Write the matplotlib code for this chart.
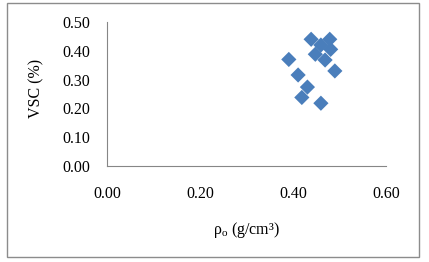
import matplotlib
matplotlib.use("Agg")
import matplotlib.pyplot as plt
from matplotlib.patches import Rectangle

density = [0.391, 0.439, 0.479, 0.460, 0.481, 0.448, 0.469, 0.490, 0.411, 0.431, 0.419, 0.460]
vsc = [0.370, 0.440, 0.440, 0.420, 0.405, 0.388, 0.368, 0.330, 0.316, 0.274, 0.238, 0.218]
xticks = [0.0, 0.2, 0.4, 0.6]
yticks = [0.0, 0.1, 0.2, 0.3, 0.4, 0.5]

plt.rcParams['font.family'] = ['Liberation Serif', 'DejaVu Serif']
plt.rcParams['mathtext.fontset'] = 'custom'
plt.rcParams['mathtext.rm'] = 'Liberation Serif'
plt.rcParams['mathtext.it'] = 'Liberation Serif:italic'

W, H = 429, 262
fig = plt.figure(figsize=(W/100, H/100), dpi=100)
fig.patches.append(Rectangle((7/W, 1-257/H), 412/W, 254/H, transform=fig.transFigure,
                             fill=False, edgecolor='#8c8c8c', linewidth=1))
ax = fig.add_axes([107/W, 1-166/H, (386-107)/W, (166-22)/H])
ax.scatter(density, vsc, marker='D', s=60, color='#4a7ebb', edgecolors='none', zorder=3)
ax.set_xlim(0, 0.6)
ax.set_ylim(0, 0.5)
ax.set_xticks(xticks)
ax.set_yticks(yticks)
ax.set_xticklabels([f"{v:.2f}" for v in xticks])
ax.set_yticklabels([f"{v:.2f}" for v in yticks])
for s in ['top', 'right']:
    ax.spines[s].set_visible(False)
for s in ['left', 'bottom']:
    ax.spines[s].set_color('#868686')
    ax.spines[s].set_linewidth(0.8)
ax.tick_params(length=0, labelsize=11.5, colors='black')
ax.tick_params(axis='x', pad=14.5)
ax.tick_params(axis='y', pad=12)
ax.set_xlabel(r'ρ$_{\mathrm{o}}$ (g/cm³)', fontsize=11.5)
ax.set_ylabel('VSC (%)', fontsize=11.5)
ax.xaxis.set_label_coords(0.5, (166-220)/144)
ax.yaxis.set_label_coords((44-107)/279, (166-88)/144)
fig.savefig('out.png', dpi=100)
